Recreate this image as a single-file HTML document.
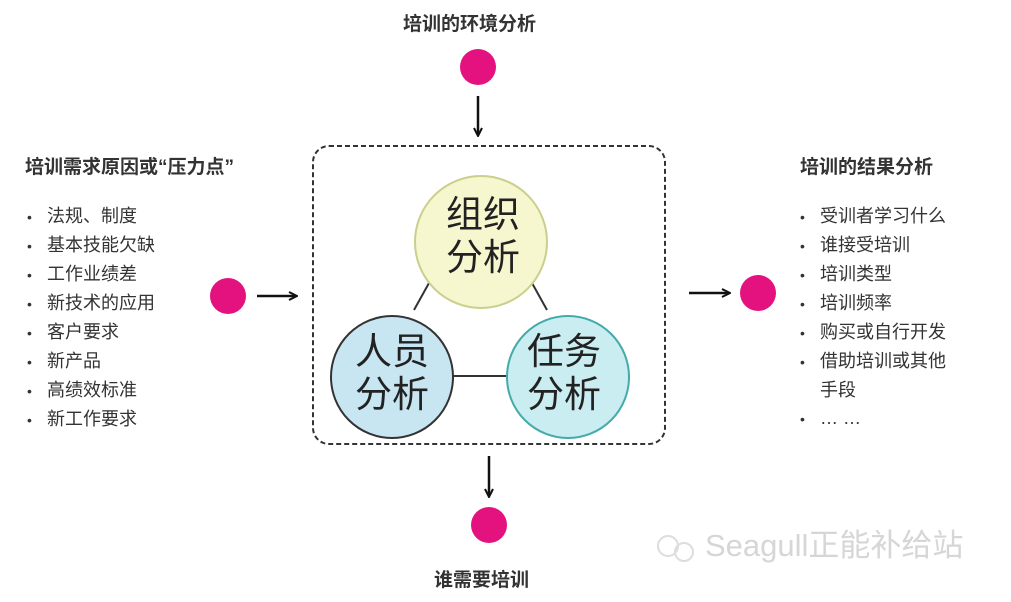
<!DOCTYPE html>
<html><head><meta charset="utf-8"><style>
body{margin:0;width:1011px;height:602px;background:#fff;overflow:hidden;font-family:"Liberation Sans","Noto Sans CJK SC",sans-serif;position:relative}
.t{position:absolute;font-weight:bold;font-size:19px;color:#333;white-space:nowrap}
.l{position:absolute;font-size:18px;color:#333;line-height:28px;white-space:nowrap}
.l div:before{content:"•";display:inline-block;width:20px;font-size:14px}
</style></head><body>
<svg width="1011" height="602" style="position:absolute;left:0;top:0">
<defs><marker id="a" markerWidth="10" markerHeight="10" refX="8" refY="5" orient="auto" markerUnits="userSpaceOnUse"><path d="M1,1 L9,5 L1,9" fill="none" stroke="#111" stroke-width="2"/></marker></defs>
<rect x="313" y="146" width="352" height="298" rx="16" fill="none" stroke="#333" stroke-width="2" stroke-dasharray="5,3"/>
<line x1="434" y1="274" x2="414" y2="310" stroke="#333" stroke-width="2"/>
<line x1="527" y1="274" x2="547" y2="310" stroke="#333" stroke-width="2"/>
<line x1="450" y1="376" x2="508" y2="376" stroke="#333" stroke-width="2"/>
<circle cx="481" cy="242" r="66" fill="#f6f6cf" stroke="#c9cf8d" stroke-width="2"/>
<circle cx="392" cy="377" r="61" fill="#c7e6f1" stroke="#333" stroke-width="2"/>
<circle cx="568" cy="377" r="61" fill="#c9edf1" stroke="#4aa" stroke-width="2"/>
<circle cx="478" cy="67" r="18" fill="#e4127f"/>
<circle cx="228" cy="296" r="18" fill="#e4127f"/>
<circle cx="758" cy="293" r="18" fill="#e4127f"/>
<circle cx="489" cy="525" r="18" fill="#e4127f"/>
<line x1="478" y1="96" x2="478" y2="135" stroke="#111" stroke-width="2.5" marker-end="url(#a)"/>
<line x1="257" y1="296" x2="296" y2="296" stroke="#111" stroke-width="2.5" marker-end="url(#a)"/>
<line x1="689" y1="293" x2="729" y2="293" stroke="#111" stroke-width="2.5" marker-end="url(#a)"/>
<line x1="489" y1="456" x2="489" y2="496" stroke="#111" stroke-width="2.5" marker-end="url(#a)"/>
<g font-family="Liberation Sans,Noto Sans CJK SC,sans-serif" font-size="37" fill="#222" text-anchor="middle">
<text x="483" y="227">组织</text><text x="483" y="270">分析</text>
<text x="392" y="364">人员</text><text x="392" y="407">分析</text>
<text x="564" y="364">任务</text><text x="564" y="407">分析</text>
</g>
<text x="705" y="556" font-family="Liberation Sans,Noto Sans CJK SC,sans-serif" font-size="31" fill="#d6d6d6">Seagull正能补给站</text>
<circle cx="668" cy="546" r="10" fill="none" stroke="#ddd" stroke-width="2"/>
<circle cx="684" cy="552" r="9" fill="none" stroke="#ddd" stroke-width="2"/>
</svg>
<div class="t" style="left:403px;top:9px">培训的环境分析</div>
<div class="t" style="left:25px;top:152px">培训需求原因或“压力点”</div>
<div class="t" style="left:800px;top:152px">培训的结果分析</div>
<div class="t" style="left:434px;top:565px">谁需要培训</div>
<div class="l" style="left:27px;top:202px"><div>法规、制度</div><div>基本技能欠缺</div><div>工作业绩差</div><div>新技术的应用</div><div>客户要求</div><div>新产品</div><div>高绩效标准</div><div>新工作要求</div></div>
<div class="l" style="left:800px;top:202px"><div>受训者学习什么</div><div>谁接受培训</div><div>培训类型</div><div>培训频率</div><div>购买或自行开发</div><div>借助培训或其他</div><span style="padding-left:20px">手段</span><div>… …</div></div>
</body></html>
